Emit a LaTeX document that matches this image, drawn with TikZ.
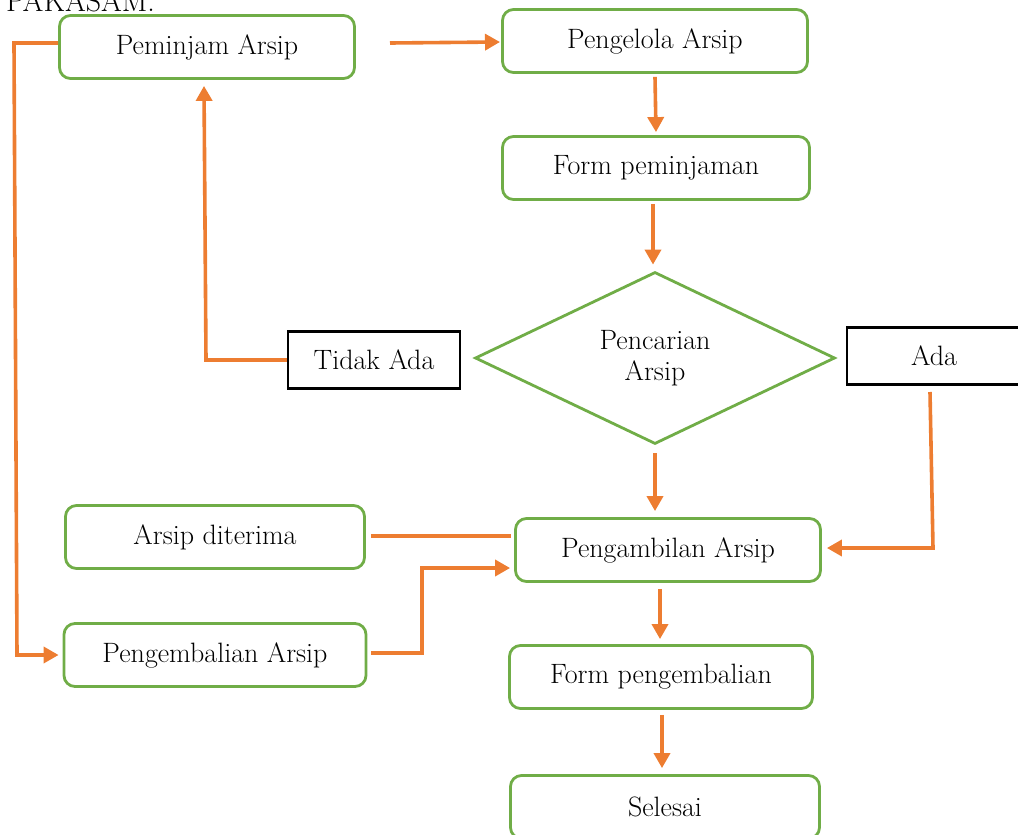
\documentclass[tikz,border=0pt]{standalone}
\usetikzlibrary{arrows.meta,shapes.geometric,calc}
\definecolor{boxgreen}{HTML}{70AD47}
\definecolor{flow}{HTML}{ED7D31}
\begin{document}
\begin{tikzpicture}[x=1pt,y=-1pt,
  font=\fontsize{28}{31}\selectfont,
  proc/.style={draw=boxgreen,line width=2.8pt,rounded corners=11pt,inner sep=0pt,
    minimum width=#1,minimum height=63pt},
  proc/.default=300pt,
  answer/.style={draw=black,line width=2.4pt,inner sep=0pt,minimum width=172pt,minimum height=57pt},
  decision/.style={draw=boxgreen,line width=2.8pt,diamond,aspect=2.1,inner sep=0pt,
    minimum width=360pt,minimum height=172pt,align=center},
  link/.style={draw=flow,line width=3.6pt},
  arrowlink/.style={link,-{Triangle[length=15pt,width=16pt]}}]
\useasboundingbox (0,0) rectangle (1018,835);
\clip (0,0) rectangle (1018,835);

% heading fragment above the chart
\node[anchor=base west,inner sep=0pt,font=\fontsize{30}{34}\selectfont] (head) at (6,12) {PAKASAM.};

% process boxes
\node[proc=295pt] (pem) at (207,47) {Peminjam Arsip};
\node[proc=305pt] (pgl) at (655,41) {Pengelola Arsip};
\node[proc=307pt] (fpm) at (656,168) {Form peminjaman};
\node[decision] (cari) at (655,358) {Pencarian\\Arsip};
\node[answer] (tidak) at (374,360) {Tidak Ada};
\node[answer,minimum width=174pt] (ada) at (934,356) {Ada};
\node[proc=299pt] (terima) at (215,537) {Arsip diterima};
\node[proc=305pt] (ambil) at (668,550) {Pengambilan Arsip};
\node[proc=302pt] (kembali) at (215,655) {Pengembalian Arsip};
\node[proc=303pt] (fkb) at (661,677) {Form pengembalian};
\node[proc=309pt] (selesai) at (665,807) {Selesai};

% free ends and bends of the connectors
\coordinate (s1) at (390,43);
\coordinate (t1) at (500,42);
\coordinate (b4) at (206,360);
\coordinate (adaTop) at (930,392);
\coordinate (adaBend) at (933,548);
\coordinate (b9a) at (14,43);
\coordinate (b9b) at (17,655);
\coordinate (b8) at (422,653);

% connectors
\draw[arrowlink] (s1) -- (t1);
\draw[arrowlink] ($(pgl.south)+(0,3)$) -- ($(fpm.north)+(0,-3)$);
\draw[arrowlink] ($(fpm.south)+(-3,3)$) -- ($(cari.north)+(-2,-6)$);
\draw[arrowlink] (tidak.west) -- (b4) -- ($(pem.south)+(-3,6)$);
\draw[arrowlink] ($(cari.south)+(0,8)$) -- ($(ambil.north)+(-13,-6)$);
\draw[arrowlink] (adaTop) -- (adaBend) -- ($(ambil.east)+(5,-2)$);
\draw[link] ($(terima.east)+(5,-1)$) -- ($(ambil.west)+(-3,-14)$);
\draw[arrowlink] ($(kembali.east)+(4,-2)$) -- (b8) |- ($(ambil.west)+(-4,18)$);
\draw[arrowlink] ($(pem.west)+(0,-4)$) -- (b9a) -- (b9b) -- ($(kembali.west)+(-4,0)$);
\draw[arrowlink] ($(ambil.south)+(-8,6)$) -- ($(fkb.north)+(-1,-5)$);
\draw[arrowlink] ($(fkb.south)+(1,5)$) -- ($(selesai.north)+(-3,-6)$);
\end{tikzpicture}
\end{document}
